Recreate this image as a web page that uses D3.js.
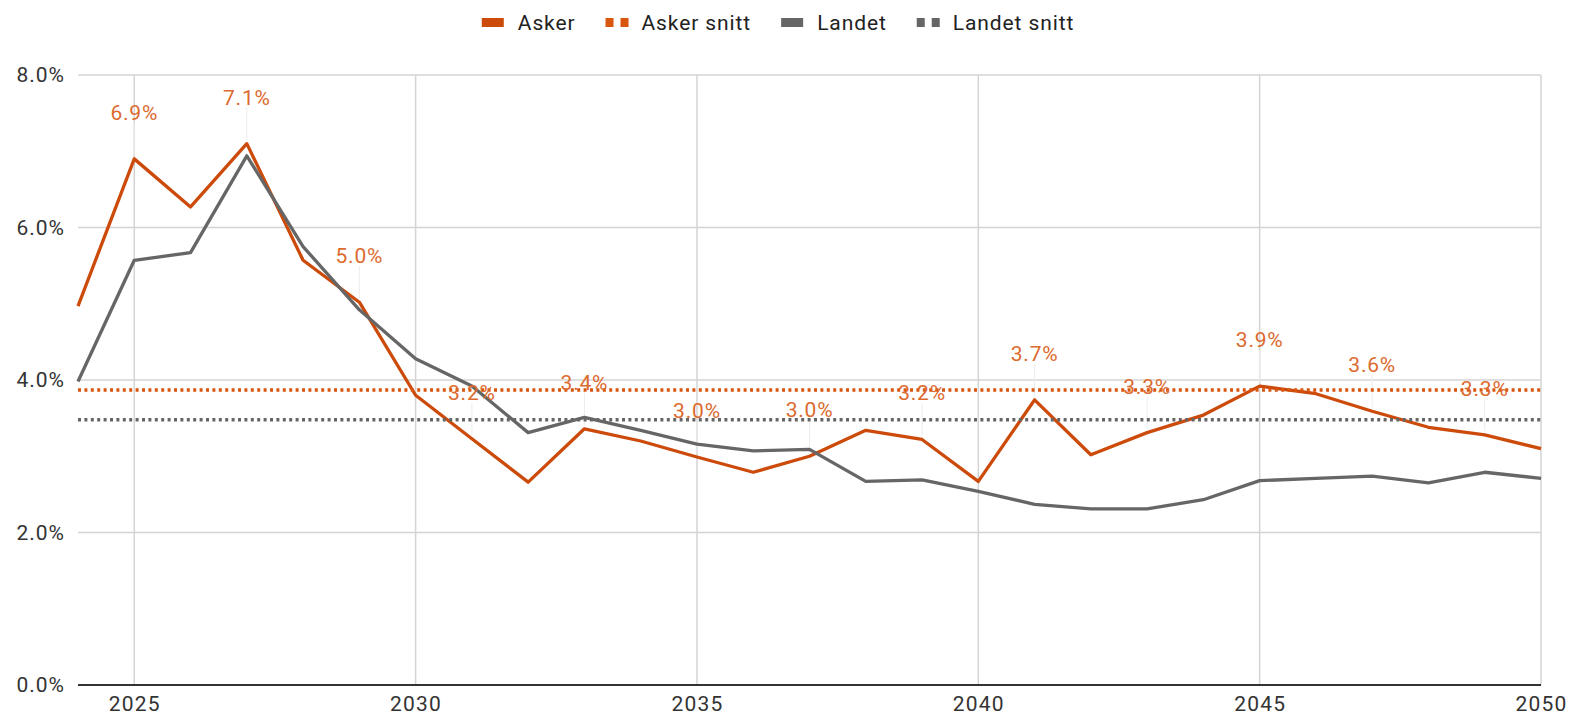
<!DOCTYPE html>
<html>
<head>
<meta charset="utf-8">
<script src="https://cdn.jsdelivr.net/npm/d3@7"></script>
<style>
  body { margin: 0; background: #fff; }
  text { font-family: Roboto, "Noto Sans", sans-serif; }
</style>
</head>
<body>
<div id="chart"></div>
<script>
// values
const years = d3.range(2024, 2051)
const asker = [4.97, 6.90, 6.27, 7.10, 5.57, 5.02, 3.80, 3.23, 2.66, 3.36, 3.20, 2.99, 2.79, 3.00,
               3.34, 3.22, 2.67, 3.74, 3.02, 3.31, 3.54, 3.92, 3.82, 3.59, 3.38, 3.28, 3.10]
const landet = [3.98, 5.57, 5.67, 6.94, 5.75, 4.92, 4.28, 3.92, 3.31, 3.51, 3.34, 3.16, 3.07, 3.09,
                2.67, 2.69, 2.54, 2.37, 2.31, 2.31, 2.43, 2.68, 2.71, 2.74, 2.65, 2.79, 2.71]
const askerSnitt = 3.87
const landetSnitt = 3.48
const yTicks = [0, 2, 4, 6, 8]
const xTicks = [2025, 2030, 2035, 2040, 2045, 2050]
const labelYears = [2025, 2027, 2029, 2031, 2033, 2035, 2037, 2039, 2041, 2043, 2045, 2047, 2049]
const legendItems = [
  {name: "Asker", color: "#cc4a0a", dotted: false},
  {name: "Asker snitt", color: "#d9560f", dotted: true},
  {name: "Landet", color: "#666666", dotted: false},
  {name: "Landet snitt", color: "#666666", dotted: true}
]

const width = 1574
const height = 721
const margin = {top: 75, right: 33, bottom: 36, left: 78}

const svg = d3.select("#chart")
  .append("svg")
  .attr("width", width)
  .attr("height", height)

const x = d3.scaleLinear()
  .domain([2024, 2050])
  .range([margin.left, width - margin.right])

const y = d3.scaleLinear()
  .domain([0, 8])
  .range([height - margin.bottom, margin.top])

//Grid
svg.append("g")
  .selectAll("line")
  .data(yTicks.slice(1))
  .join("line")
  .attr("x1", margin.left)
  .attr("x2", width - margin.right)
  .attr("y1", d => y(d))
  .attr("y2", d => y(d))
  .attr("stroke", "#d4d4d4")
  .attr("stroke-width", 1.5)

svg.append("g")
  .selectAll("line")
  .data(xTicks)
  .join("line")
  .attr("x1", d => x(d))
  .attr("x2", d => x(d))
  .attr("y1", margin.top)
  .attr("y2", height - margin.bottom)
  .attr("stroke", "#d4d4d4")
  .attr("stroke-width", 1.5)

//Axes
const yAxis = d3.axisLeft(y)
  .tickValues(yTicks)
  .tickFormat(d => d.toFixed(1) + "%")
  .tickSize(0)
  .tickPadding(13)

svg.append("g")
  .attr("transform", `translate(${margin.left},0)`)
  .call(yAxis)
  .call(g => g.select(".domain").remove())
  .selectAll("text")
  .attr("font-size", 21)
  .attr("fill", "#333")
  .style("letter-spacing", "1px")
  .attr("font-family", "Roboto")

const xAxis = d3.axisBottom(x)
  .tickValues(xTicks)
  .tickFormat(d3.format("d"))
  .tickSize(0)
  .tickPadding(11)

svg.append("g")
  .attr("transform", `translate(0,${height - margin.bottom})`)
  .call(xAxis)
  .call(g => g.select(".domain").remove())
  .selectAll("text")
  .attr("font-size", 21)
  .attr("fill", "#333")
  .style("letter-spacing", "1.2px")
  .attr("font-family", "Roboto")

svg.append("line")
  .attr("x1", margin.left)
  .attr("x2", width - margin.right)
  .attr("y1", y(0))
  .attr("y2", y(0))
  .attr("stroke", "#333")
  .attr("stroke-width", 2)

//Leader lines for labels
const labelData = labelYears.map(yr => ({year: yr, value: asker[years.indexOf(yr)]}))

svg.append("g")
  .selectAll("line")
  .data(labelData)
  .join("line")
  .attr("x1", d => x(d.year))
  .attr("x2", d => x(d.year))
  .attr("y1", d => y(d.value) - 4)
  .attr("y2", d => y(d.value) - 36)
  .attr("stroke", "#ececec")
  .attr("stroke-width", 1)

//Lines
const line = d3.line()
  .x((d, i) => x(years[i]))
  .y(d => y(d))

svg.append("path")
  .datum(asker)
  .attr("d", line)
  .attr("fill", "none")
  .attr("stroke", "#cc4a0a")
  .attr("stroke-width", 3.3)
  .attr("stroke-linejoin", "round")

svg.append("line")
  .attr("x1", x(2024))
  .attr("x2", x(2050))
  .attr("y1", y(askerSnitt))
  .attr("y2", y(askerSnitt))
  .attr("stroke", "#d9560f")
  .attr("stroke-width", 3.5)
  .attr("stroke-dasharray", "3,3.4")

svg.append("path")
  .datum(landet)
  .attr("d", line)
  .attr("fill", "none")
  .attr("stroke", "#666666")
  .attr("stroke-width", 3.3)
  .attr("stroke-linejoin", "round")

svg.append("line")
  .attr("x1", x(2024))
  .attr("x2", x(2050))
  .attr("y1", y(landetSnitt))
  .attr("y2", y(landetSnitt))
  .attr("stroke", "#666666")
  .attr("stroke-width", 3.5)
  .attr("stroke-dasharray", "3,3.4")

//Data labels
svg.append("g")
  .selectAll("text")
  .data(labelData)
  .join("text")
  .attr("x", d => x(d.year))
  .attr("y", d => y(d.value) - 39)
  .attr("text-anchor", "middle")
  .attr("font-size", 21)
  .style("letter-spacing", "0.8px")
  .attr("fill", "#dc6a2e")
  .text(d => d.value.toFixed(1) + "%")

//Legend
const legend = svg.append("g").attr("id", "legend")
let cx = 0
legendItems.forEach(item => {
  const g = legend.append("g").attr("transform", `translate(${cx},0)`)
  if (item.dotted) {
    g.append("rect").attr("x", 0).attr("y", -5).attr("width", 8).attr("height", 9).attr("fill", item.color)
    g.append("rect").attr("x", 15).attr("y", -5).attr("width", 8).attr("height", 9).attr("fill", item.color)
  } else {
    g.append("rect").attr("x", 0).attr("y", -5).attr("width", 22).attr("height", 9).attr("fill", item.color)
  }
  const t = g.append("text")
    .attr("x", 36)
    .attr("y", 7)
    .attr("font-size", 21)
    .style("letter-spacing", "0.9px")
    .attr("fill", "#222")
    .text(item.name)
  cx += 36 + t.node().getComputedTextLength() + 30
})
const legendWidth = cx - 30
legend.attr("transform", `translate(${778 - legendWidth / 2},23)`)
</script>
</body>
</html>
